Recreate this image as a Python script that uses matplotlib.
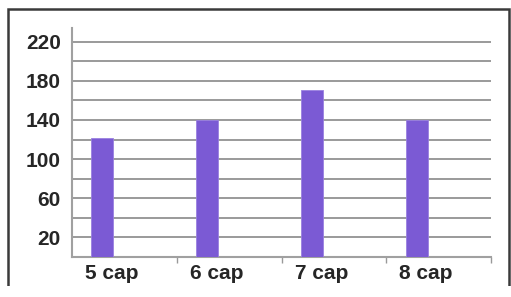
import numpy as np
import matplotlib.pyplot as plt
from matplotlib.patches import Rectangle
from matplotlib.ticker import FixedLocator

categories = ["5 cap", "6 cap", "7 cap", "8 cap"]
values = [122, 140, 171, 140]
ytick_values = list(range(20, 240, 20))
ytick_labels = [str(v) if (v - 20) % 40 == 0 else "" for v in ytick_values]

plt.rcParams["font.family"] = ["Liberation Sans", "DejaVu Sans"]

W, H = 511, 297
fig = plt.figure(figsize=(W / 100, H / 100), dpi=100)
fig.patch.set_facecolor("white")

# outer frame (image is cropped at the bottom)
fig.patches.append(Rectangle((8 / W, 10 / H), 501 / W, 1 - 19 / H,
                             transform=fig.transFigure, fill=False,
                             edgecolor="#3a3a3a", linewidth=1.8))
# hide the bottom edge of the frame, the picture is cut there
fig.patches.append(Rectangle((0, 0), 1, 11 / H, transform=fig.transFigure,
                             facecolor="white", edgecolor="none"))

ax = fig.add_axes([72 / W, 1 - 257 / H, 419 / W, 229 / H])

x = np.arange(len(categories))
ax.bar(x + 0.29, values, width=0.21, color="#7b5ad4",
       edgecolor="#9a80e0", linewidth=0.6, zorder=3)

ax.set_xlim(0, 4)
ax.set_ylim(0, 234)

ax.set_yticks(ytick_values)
ax.set_yticklabels(ytick_labels, fontsize=15, fontweight="bold",
                   color="#262626")
ax.tick_params(axis="y", length=0, pad=8)
ax.yaxis.grid(True, color="#929292", linewidth=1.3, zorder=0)

ax.set_xticks(x + 0.38)
ax.set_xticklabels(categories, fontsize=15, fontweight="bold",
                   color="#262626")
ax.tick_params(axis="x", which="major", length=0, pad=5)
ax.xaxis.set_minor_locator(FixedLocator([1, 2, 3, 4]))
ax.tick_params(axis="x", which="minor", length=4, width=1, color="#999999")

for side in ["top", "right"]:
    ax.spines[side].set_visible(False)
ax.spines["left"].set_color("#a0a0a0")
ax.spines["bottom"].set_color("#a0a0a0")
ax.spines["left"].set_linewidth(1.5)
ax.spines["bottom"].set_linewidth(1.5)

plt.savefig("out.png", dpi=100)
plt.close()
